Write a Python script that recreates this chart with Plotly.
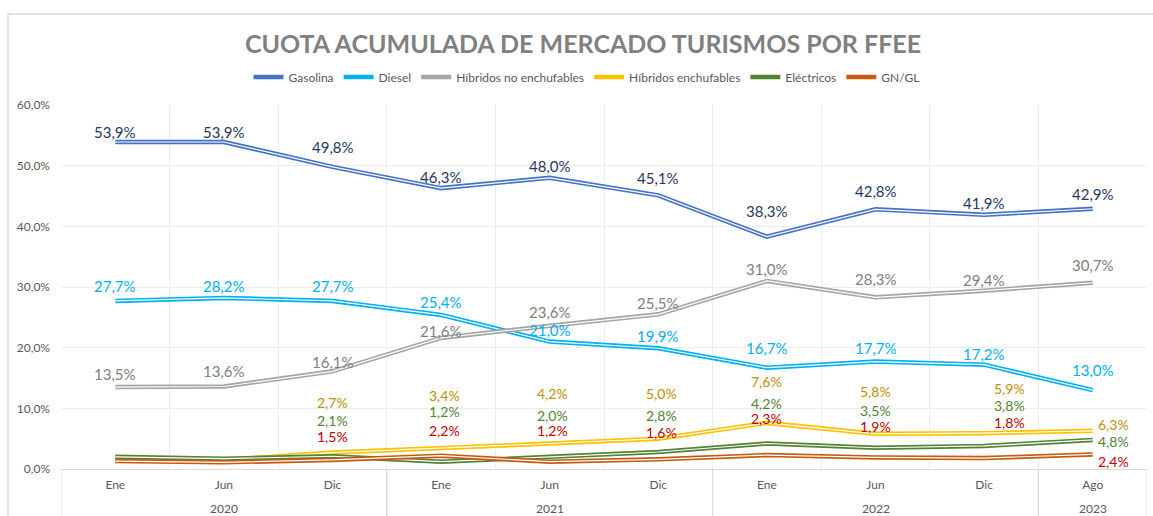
import plotly.graph_objects as go

months = ["Ene", "Jun", "Dic", "Ene", "Jun", "Dic", "Ene", "Jun", "Dic", "Ago"]
years = ["2020", "2020", "2020", "2021", "2021", "2021", "2022", "2022", "2022", "2023"]

gasolina = [53.9, 53.9, 49.8, 46.3, 48.0, 45.1, 38.3, 42.8, 41.9, 42.9]
diesel = [27.7, 28.2, 27.7, 25.4, 21.0, 19.9, 16.7, 17.7, 17.2, 13.0]
hibridos_ne = [13.5, 13.6, 16.1, 21.6, 23.6, 25.5, 31.0, 28.3, 29.4, 30.7]
hibridos_e = [1.6, 1.5, 2.7, 3.4, 4.2, 5.0, 7.6, 5.8, 5.9, 6.3]
electricos = [2.0, 1.7, 2.1, 1.2, 2.0, 2.8, 4.2, 3.5, 3.8, 4.8]
gn_gl = [1.3, 1.1, 1.5, 2.2, 1.2, 1.6, 2.3, 1.9, 1.8, 2.4]

# which points carry a data label
show_big = [True] * 10
show_small = [False, False, True, True, True, True, True, True, True, True]

# label pixel offsets (style)
off_gas = [10, 10, 20, 11, 12, 17, 26, 18, 12, 15]
off_die = [15, 12, 15, 13, 12, 12, 20, 14, 11, 20]
off_hne = [13, 15, 9, 7, 14, 11, 12, 18, 11, 18]
off_he = [0, 0, 50, 53, 50, 45, 41, 42, 45, 6]
off_el = [0, 0, 36, 50, 41, 37, 40, 37, 40, -2]
off_gn = [0, 0, 23, 25, 31, 27, 37, 31, 36, -7]
xoff_small = [0, 0, 0, 3, 3, 3, 0, 0, 25, 21]

series = [
    ("Gasolina", gasolina, "#4472C4", "#1F3864", off_gas, show_big, [0] * 10, 15),
    ("Diesel", diesel, "#00B0F0", "#00B0F0", off_die, show_big, [0] * 10, 15),
    ("Híbridos no enchufables", hibridos_ne, "#A5A5A5", "#808080", off_hne, show_big, [0] * 10, 15),
    ("Híbridos enchufables", hibridos_e, "#FFC000", "#BF9000", off_he, show_small, xoff_small, 14),
    ("Eléctricos", electricos, "#548235", "#548235", off_el, show_small, xoff_small, 14),
    ("GN/GL", gn_gl, "#C55A11", "#C00000", off_gn, show_small, xoff_small, 14),
]

FONT = "Lato"
x = list(range(len(months)))

fig = go.Figure()
annotations = []
for name, vals, col, lcol, offs, shows, xoffs, fsize in series:
    fig.add_trace(go.Scatter(x=x, y=vals, name=name, mode="lines",
                             line=dict(color=col, width=4.5), hoverinfo="skip"))
    fig.add_trace(go.Scatter(x=x, y=vals, name=name, mode="lines", showlegend=False,
                             line=dict(color="white", width=1.2), hoverinfo="skip"))
    for i, v in enumerate(vals):
        if shows[i]:
            annotations.append(dict(
                x=x[i], y=v, xref="x", yref="y", text=f"{v:.1f}%".replace(".", ","),
                showarrow=False, yshift=offs[i], xshift=xoffs[i],
                font=dict(family=FONT, size=fsize, color=lcol)))

# year group labels
groups = []
for i, yv in enumerate(years):
    if not groups or groups[-1][0] != yv:
        groups.append([yv, i, i])
    else:
        groups[-1][2] = i
shapes = []
for yv, a, b in groups:
    annotations.append(dict(x=(a + b) / 2, y=0, xref="x", yref="paper",
                            yanchor="middle", yshift=-39,
                            text=yv, showarrow=False,
                            font=dict(family=FONT, size=12, color="#595959")))
    for bx in (a - 0.5, b + 0.5):
        shapes.append(dict(type="line", xref="x", yref="paper", x0=bx, x1=bx,
                           y0=0, y1=-0.14, line=dict(color="#D9D9D9", width=1)))

# chart border
shapes.append(dict(type="rect", xref="paper", yref="paper",
                   x0=(8 - 61) / 1086, x1=1.2, y0=-0.3, y1=1 + (105 - 14) / 364,
                   line=dict(color="#D9D9D9", width=1.5), layer="below"))

fig.update_layout(
    width=1153, height=516,
    margin=dict(l=61, r=6, t=105, b=47),
    paper_bgcolor="white", plot_bgcolor="white",
    separators=",.",
    title=dict(text="<b>CUOTA ACUMULADA DE MERCADO TURISMOS POR FFEE</b>",
               x=(583 - 61) / 1086, xref="paper", xanchor="center",
               y=1 - 44 / 516, yref="container", yanchor="middle",
               font=dict(family=FONT, size=25, color="#808080")),
    legend=dict(orientation="h", x=(587 - 61) / 1086, xanchor="center",
                y=1 + (105 - 77) / 364, yanchor="middle",
                font=dict(family=FONT, size=12, color="#595959"),
                itemwidth=30, tracegroupgap=0),
    xaxis=dict(range=[-0.5, len(months) - 0.5], tickmode="array", tickvals=x,
               ticktext=months, showgrid=False, zeroline=False,
               showline=True, linecolor="#D9D9D9", linewidth=1,
               ticks="", ticklabelstandoff=5,
               tickfont=dict(family=FONT, size=12, color="#595959"),
               minor=dict(tickmode="array", tickvals=[i - 0.5 for i in range(len(months) + 1)],
                          showgrid=True, gridcolor="#EDEDED", gridwidth=1, ticks="")),
    yaxis=dict(range=[0, 60], dtick=10, tickformat=".1f", ticksuffix="%",
               showgrid=True, gridcolor="#EDEDED", gridwidth=1, zeroline=False,
               showline=False, ticks="", ticklabelstandoff=10,
               tickfont=dict(family=FONT, size=12, color="#595959")),
    annotations=annotations,
    shapes=shapes,
    showlegend=True,
)

fig.write_html("out.html")
